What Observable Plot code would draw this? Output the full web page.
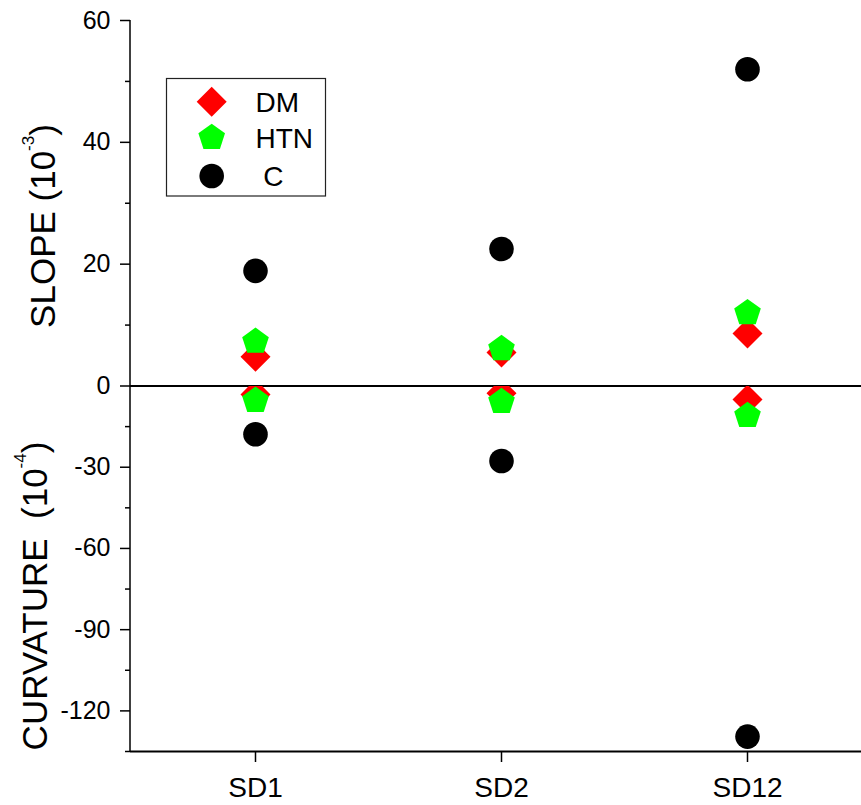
<!DOCTYPE html>
<html><head><meta charset="utf-8">
<script src="https://cdn.jsdelivr.net/npm/d3@7"></script>
<script src="https://cdn.jsdelivr.net/npm/@observablehq/plot@0.6"></script>
<style>body{margin:0;background:#fff} #chart{width:861px;height:805px}</style>
</head><body><div id="chart"></div>
<script>
// ---- data ----
const categories = ["SD1", "SD2", "SD12"];
const slopeDM  = [4.8, 5.5, 8.6];
const slopeHTN = [7.3, 6.1, 12.0];
const slopeC   = [18.9, 22.5, 52.0];
const curvDM   = [-3.1, -2.7, -5.0];
const curvHTN  = [-5.4, -5.8, -11.0];
const curvC    = [-17.8, -27.7, -129.5];
const yMajorTicks = [-120, -90, -60, -30, 0, 20, 40, 60];
const yMinorTicks = [-135, -105, -75, -45, -15, 10, 30, 50];
const seriesNames = ["DM", "HTN", "C"];
const seriesColors = ["#ff0000", "#00ff00", "#000000"];

// upper panel: slope 0..60 ; lower panel: curvature 0..-135 (same height)
const slopeMax = 60, curvMin = -135;
const panelScale = v => (v < 0 ? v * slopeMax / -curvMin : v);

// ---- symbols ----
const diamond = {draw(ctx, size) {const r = Math.sqrt(size / Math.PI); ctx.moveTo(0, -r); ctx.lineTo(r, 0); ctx.lineTo(0, r); ctx.lineTo(-r, 0); ctx.closePath();}};
const pentagon = {draw(ctx, size) {const r = Math.sqrt(size / Math.PI); for (let i = 0; i < 5; i++) {const a = -Math.PI / 2 + i * 2 * Math.PI / 5; const x = r * Math.cos(a), y = r * Math.sin(a); if (i === 0) ctx.moveTo(x, y); else ctx.lineTo(x, y);} ctx.closePath();}};
const circle = {draw(ctx, size) {const r = Math.sqrt(size / Math.PI); ctx.moveTo(r, 0); ctx.arc(0, 0, r, 0, 2 * Math.PI);}};
const symbols = [diamond, pentagon, circle];
const radii = [15, 14, 12.3];

const slopeSeries = [slopeDM, slopeHTN, slopeC];
const curvSeries = [curvDM, curvHTN, curvC];

function rowsOf(values) { return categories.map((cat, i) => ({cat, v: values[i]})); }

const dotMarks = [];
seriesNames.forEach((name, s) => {
  dotMarks.push(Plot.dot(rowsOf(slopeSeries[s]), {x: "cat", y: "v", symbol: symbols[s], r: radii[s], fill: seriesColors[s]}));
  dotMarks.push(Plot.dot(rowsOf(curvSeries[s]), {x: "cat", y: "v", symbol: symbols[s], r: radii[s], fill: seriesColors[s]}));
});

const marginLeft = 130;
const plot = Plot.plot({
  width: 861, height: 805,
  marginLeft, marginRight: 0, marginTop: 20, marginBottom: 54,
  style: {fontFamily: "'Liberation Sans', Arial, sans-serif", background: "white", color: "black"},
  x: {type: "point", domain: categories, padding: 0.483, align: 0.525},
  y: {type: "linear", transform: panelScale, domain: [panelScale(curvMin), slopeMax]},
  marks: [
    Plot.axisX({tickSize: 11, tickPadding: 15, fontSize: 28, label: null, strokeWidth: 1.5}),
    Plot.axisY(yMajorTicks, {tickSize: 10, tickPadding: 10, fontSize: 25, label: null, tickFormat: d => String(d), strokeWidth: 1.5}),
    Plot.axisY(yMinorTicks, {tickSize: 5, tickFormat: () => "", label: null, strokeWidth: 1.5}),
    Plot.ruleY([curvMin], {strokeWidth: 2}),
    Plot.ruleY([0], {strokeWidth: 2}),
    ...dotMarks
  ]
});

const svg = d3.select(plot);
const y = plot.scale("y");
const py = v => y.apply(panelScale(v));
const y0 = py(0), yTop = py(slopeMax), yBot = py(curvMin);

// left spine
svg.append("line").attr("x1", marginLeft).attr("x2", marginLeft).attr("y1", yTop).attr("y2", yBot)
  .attr("stroke", "black").attr("stroke-width", 1.5);

// clip the two stacked panels
const defs = svg.append("defs");
defs.append("clipPath").attr("id", "clipTop").append("rect").attr("x", marginLeft).attr("y", yTop).attr("width", 861 - marginLeft).attr("height", y0 - yTop);
defs.append("clipPath").attr("id", "clipBot").append("rect").attr("x", marginLeft).attr("y", y0).attr("width", 861 - marginLeft).attr("height", yBot - y0);
svg.selectAll('g[aria-label="dot"]').each(function(d, i) {
  d3.select(this).attr("clip-path", i % 2 === 0 ? "url(#clipTop)" : "url(#clipBot)");
});

// axis titles
const font = "'Liberation Sans', Arial, sans-serif";
function title(x, cy, main, sup) {
  const t = svg.append("text").attr("transform", `translate(${x},${cy}) rotate(-90)`)
    .attr("text-anchor", "middle").attr("font-family", font).attr("font-size", 35).attr("fill", "black")
    .attr("xml:space", "preserve");
  t.append("tspan").text(main + "(10");
  t.append("tspan").attr("font-size", 17).attr("dy", -21).text(sup);
  t.append("tspan").attr("dy", 21).text(")");
}
title(55, 226, "SLOPE ", "-3");
title(47, 596, "CURVATURE  ", "-4");

// legend
const lg = svg.append("g");
lg.append("rect").attr("x", 166.5).attr("y", 78.5).attr("width", 159).attr("height", 117.5)
  .attr("fill", "white").attr("stroke", "#222").attr("stroke-width", 1.2);
const legendY = [101.7, 137.7, 176];
const legendLabels = ["DM", "HTN", " C"];
seriesNames.forEach((name, s) => {
  lg.append("path").attr("transform", `translate(211.7,${legendY[s]})`)
    .attr("d", d3.symbol(symbols[s], Math.PI * radii[s] * radii[s])())
    .attr("fill", seriesColors[s]);
  lg.append("text").attr("x", 255.5).attr("y", legendY[s] + 10).attr("font-family", font)
    .attr("text-anchor", "start")
    .attr("font-size", 28).attr("fill", "black").attr("xml:space", "preserve").text(legendLabels[s]);
});

document.getElementById("chart").appendChild(plot);
</script>
</body></html>
